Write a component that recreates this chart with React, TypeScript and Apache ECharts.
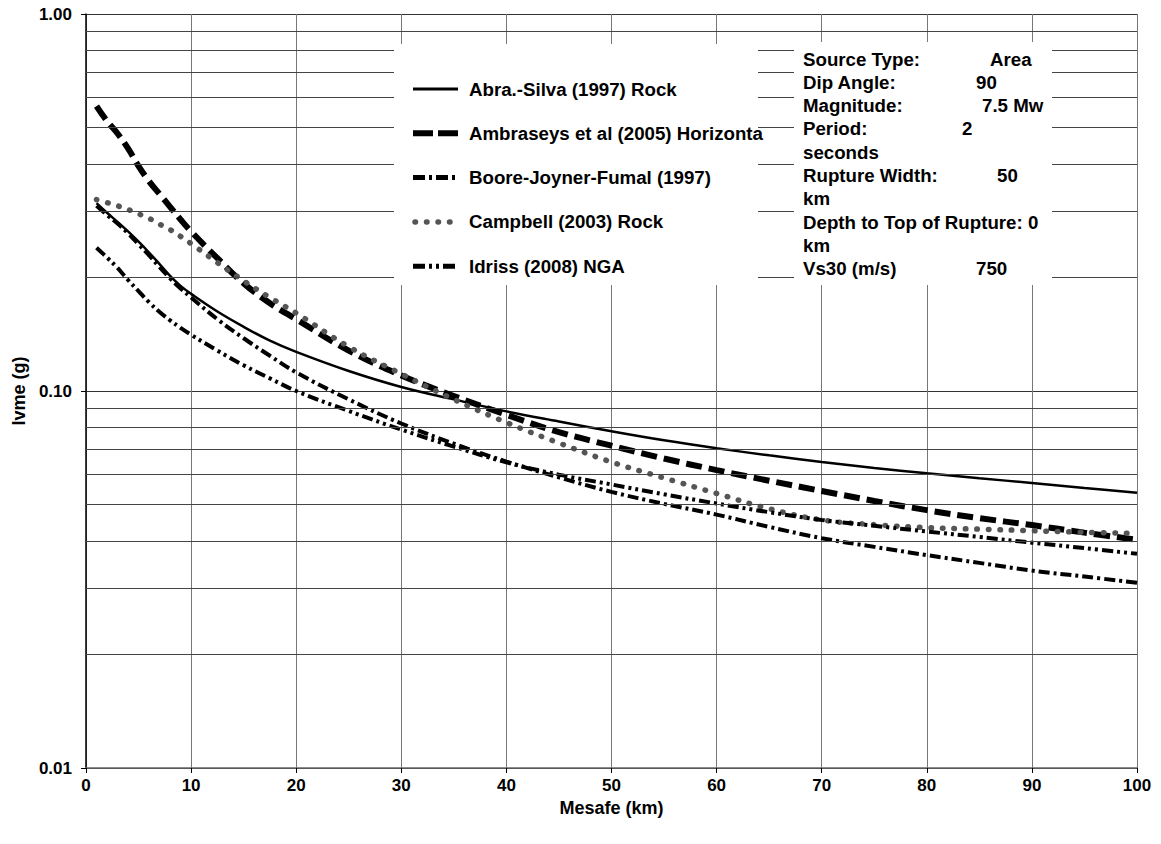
import React, { useEffect, useRef } from "react";
import * as echarts from "echarts";

const distances = [1, 2, 3, 4, 5, 6, 7, 8, 9, 10, 12.5, 15, 17.5, 20, 25, 30, 35, 40, 45, 50, 55, 60, 65, 70, 75, 80, 85, 90, 95, 100];

const abraSilva = [0.315, 0.297, 0.281, 0.265, 0.249, 0.233, 0.217, 0.202, 0.19, 0.181, 0.1625, 0.148, 0.136, 0.127, 0.113, 0.1025, 0.095, 0.0883, 0.083, 0.0782, 0.074, 0.0705, 0.0675, 0.0648, 0.0625, 0.0605, 0.0587, 0.057, 0.0553, 0.0537];
const ambraseys = [0.57, 0.52, 0.482, 0.44, 0.395, 0.36, 0.333, 0.308, 0.285, 0.265, 0.225, 0.193, 0.171, 0.155, 0.128, 0.11, 0.097, 0.0865, 0.0778, 0.0716, 0.0662, 0.0617, 0.0578, 0.0543, 0.0511, 0.0483, 0.046, 0.0441, 0.0421, 0.0403];
const booreJoynerFumal = [0.31, 0.293, 0.278, 0.262, 0.245, 0.229, 0.213, 0.199, 0.187, 0.177, 0.155, 0.138, 0.124, 0.112, 0.095, 0.082, 0.0725, 0.065, 0.059, 0.054, 0.0502, 0.047, 0.0436, 0.0407, 0.0386, 0.0367, 0.035, 0.0334, 0.0322, 0.031];
const campbell = [0.322, 0.316, 0.31, 0.303, 0.295, 0.287, 0.277, 0.268, 0.257, 0.246, 0.219, 0.196, 0.177, 0.161, 0.131, 0.111, 0.095, 0.0825, 0.0728, 0.0648, 0.0588, 0.0535, 0.0487, 0.0455, 0.0442, 0.0434, 0.043, 0.0426, 0.0422, 0.0419];
const idriss = [0.24, 0.226, 0.212, 0.197, 0.184, 0.172, 0.162, 0.154, 0.147, 0.141, 0.128, 0.117, 0.108, 0.1, 0.0885, 0.079, 0.0712, 0.0647, 0.06, 0.0565, 0.0532, 0.0503, 0.0477, 0.0455, 0.0439, 0.0424, 0.041, 0.0396, 0.0383, 0.037];

const seriesNames = [
  "Abra.-Silva (1997) Rock",
  "Ambraseys et al (2005) Horizontal",
  "Boore-Joyner-Fumal (1997)",
  "Campbell (2003) Rock",
  "Idriss (2008) NGA",
];

const minorGridValues = [0.02, 0.03, 0.04, 0.05, 0.06, 0.07, 0.08, 0.09, 0.2, 0.3, 0.4, 0.5, 0.6, 0.7, 0.8, 0.9];

const infoLabels = ["Source Type:", "Dip Angle:", "Magnitude:", "Period:", "seconds", "Rupture Width:", "km", "Depth to Top of Rupture: 0", "km", "Vs30 (m/s)"];
const infoValues = ["Area", "90", "7.5 Mw", "2", "", "50", "", "", "", "750"];

const FONT = '"Liberation Sans", Arial, sans-serif';

type LS = { width: number; type: any; color: string; cap?: string };
const lineStyles: LS[] = [
  { width: 2.5, type: "solid", color: "#000" },
  { width: 6, type: [16, 7], color: "#000" },
  { width: 4, type: [11, 4, 3, 4], color: "#000" },
  { width: 5.5, type: [0.5, 11], color: "#555", cap: "round" },
  { width: 4, type: [11, 4, 3, 4, 3, 4], color: "#000" },
];
const legendDash: any[] = [null, [20, 5], [12, 4, 3, 4], [0.5, 11], [12, 4, 3, 4, 3, 4]];
const legendWidth = [3, 6, 5, 5.5, 5];

export default function App() {
  const ref = useRef<HTMLDivElement>(null);
  useEffect(() => {
    if (!ref.current) return;
    const chart = echarts.init(ref.current, undefined, { renderer: "svg" });
    const allValues = [abraSilva, ambraseys, booreJoynerFumal, campbell, idriss];
    const series: any[] = [
      {
        type: "line",
        name: "grid",
        data: [[50, 0.1]],
        symbol: "none",
        lineStyle: { width: 0, opacity: 0 },
        z: 1,
        silent: true,
        markLine: {
          silent: true,
          symbol: ["none", "none"],
          label: { show: false },
          lineStyle: { color: "#444", width: 1, type: "solid" },
          data: minorGridValues.map((v) => ({ yAxis: v })),
          animation: false,
        },
      },
    ];
    allValues.forEach((vals, i) => {
      series.push({
        type: "line",
        name: seriesNames[i],
        data: distances.map((d, j) => [d, vals[j]]),
        symbol: "none",
        smooth: 0.4,
        z: 3,
        lineStyle: {
          width: lineStyles[i].width,
          type: lineStyles[i].type,
          color: lineStyles[i].color,
          cap: lineStyles[i].cap || "butt",
        },
      });
    });

    const graphics: any[] = [];
    graphics.push({ type: "rect", z: 10, shape: { x: 394, y: 44, width: 364, height: 241 }, style: { fill: "#fff" } });
    seriesNames.forEach((name, i) => {
      const y = 89 + i * 44.3;
      graphics.push({
        type: "line",
        z: 11,
        shape: { x1: i === 3 ? 415 : 413, y1: y, x2: 458, y2: y },
        style: {
          stroke: lineStyles[i].color,
          lineWidth: legendWidth[i],
          lineDash: legendDash[i] || undefined,
          lineCap: i === 3 ? "round" : "butt",
        },
      });
      graphics.push({
        type: "text",
        z: 11,
        x: 469,
        y: y,
        style: {
          text: name,
          font: `bold 18.7px ${FONT}`,
          fill: "#000",
          verticalAlign: "middle",
          width: 300,
          overflow: "truncate",
          ellipsis: "",
        },
      });
    });
    graphics.push({ type: "rect", z: 10, shape: { x: 794, y: 42, width: 258, height: 243 }, style: { fill: "#fff" } });
    const valueX = [990, 976, 982, 962, 0, 997, 0, 0, 0, 976];
    infoLabels.forEach((lab, i) => {
      const y = 59 + i * 23.3;
      graphics.push({
        type: "text",
        z: 11,
        x: 803,
        y,
        style: { text: lab, font: `bold 18.7px ${FONT}`, fill: "#000", verticalAlign: "middle" },
      });
      if (infoValues[i]) {
        graphics.push({
          type: "text",
          z: 11,
          x: valueX[i],
          y,
          style: { text: infoValues[i], font: `bold 18.7px ${FONT}`, fill: "#000", verticalAlign: "middle" },
        });
      }
    });

    chart.setOption({
      animation: false,
      grid: { left: 86, right: 24, top: 14, bottom: 76, containLabel: false },
      xAxis: {
        type: "value",
        min: 0,
        max: 100,
        interval: 10,
        name: "Mesafe (km)",
        nameLocation: "middle",
        nameGap: 23,
        nameTextStyle: { fontFamily: FONT, fontWeight: "bold", fontSize: 18, color: "#000", verticalAlign: "top" },
        axisLine: { show: true, lineStyle: { color: "#666", width: 1.5 } },
        axisTick: { show: true, length: 5, lineStyle: { color: "#000" } },
        axisLabel: { fontFamily: FONT, fontWeight: "bold", fontSize: 17, color: "#000", margin: 9 },
        splitLine: { show: true, lineStyle: { color: "#777", width: 1 } },
      },
      yAxis: {
        type: "log",
        logBase: 10,
        min: 0.01,
        max: 1,
        name: "Ivme (g)",
        nameLocation: "middle",
        nameGap: 57,
        nameRotate: 90,
        nameTextStyle: { fontFamily: FONT, fontWeight: "bold", fontSize: 18, color: "#000" },
        axisLine: { show: true, lineStyle: { color: "#000", width: 1.5 } },
        axisTick: { show: true, length: 5, lineStyle: { color: "#000" } },
        axisLabel: {
          fontFamily: FONT,
          fontWeight: "bold",
          fontSize: 17,
          color: "#000",
          margin: 14,
          formatter: (v: number) => v.toFixed(2),
        },
        splitLine: { show: true, lineStyle: { color: "#333", width: 1 } },
      },
      series,
      graphic: graphics,
    });
    return () => chart.dispose();
  }, []);
  return (
    <div
      ref={ref}
      style={{ position: "absolute", left: 0, top: 0, width: 1161, height: 844, background: "#fff" }}
    />
  );
}
